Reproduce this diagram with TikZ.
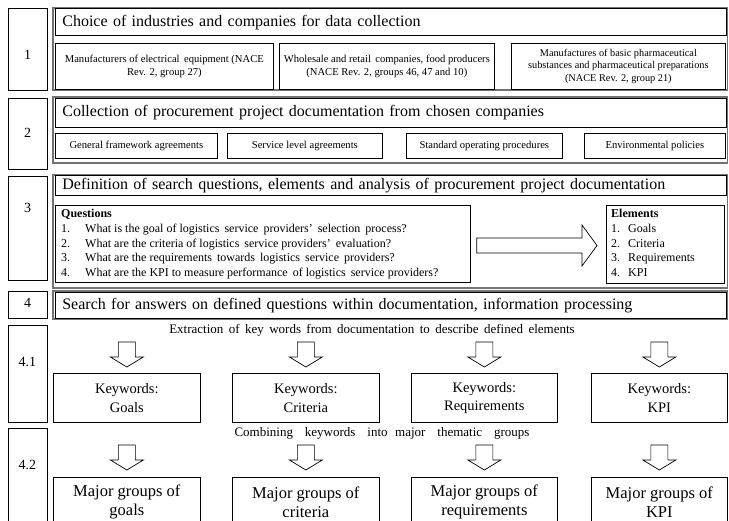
\documentclass[tikz,border=0pt]{standalone}
\usepackage{fontspec}
\setmainfont{Liberation Serif}
\begin{document}
\begin{tikzpicture}[x=1pt,y=-1pt,
  lw/.style={line width=0.7pt},
  numbox/.style={draw, lw, anchor=north west, inner sep=0pt, minimum width=39},
  numtext/.style={font=\fontsize{14}{16}\selectfont},
  rowframe/.style={draw=black!55, line width=1.3pt},
  titlebox/.style={draw, lw, anchor=north west, inner xsep=7pt, inner ysep=0pt,
    minimum width=671, text width=657, align=left, font=\fontsize{16}{18}\selectfont},
  subbox/.style={draw, lw, anchor=north west, inner sep=2pt, align=center,
    font=\fontsize{10.6}{13}\selectfont},
  listbox/.style={draw, lw, anchor=north west, inner sep=0pt},
  listtext/.style={anchor=north west, inner sep=0pt, align=left,
    font=\fontsize{12}{14.8}\selectfont},
  kwbox/.style={draw, lw, anchor=north west, inner sep=2pt, align=center,
    font=\fontsize{14.5}{18.5}\selectfont},
  mgbox/.style={kwbox, font=\fontsize{16.5}{19}\selectfont},
  caption/.style={font=\fontsize{13}{15}\selectfont},
  blockarrow/.style={draw, lw, fill=white, line join=miter},
  downarrow/.pic={\draw[blockarrow] (-8.5,0) -- (8.5,0) -- (8.5,15) -- (16.5,15)
    -- (0,25) -- (-16.5,15) -- (-8.5,15) -- cycle;}
]
\useasboundingbox (0,0) rectangle (729,521);
\clip (0,0) rectangle (729,521);

% ---------- step 1 ----------
\node[numbox, minimum height=82] (n1) at (8,8) {};
\node[numtext] at (27.5,55) {1};
\draw[rowframe] (53,8) rectangle (727.5,90);
\node[titlebox, minimum height=27] (t1) at (55,8.5) {Choice of industries and companies for data collection};
\node[subbox, minimum width=218, minimum height=46] (s11) at (55,43)
  {Manufacturers of electrical\, equipment (NACE\\Rev. 2, group 27)};
\node[subbox, minimum width=215, minimum height=46] (s12) at (279,43)
  {Wholesale and retail\, companies, food producers\\(NACE Rev. 2, groups 46, 47 and 10)};
\node[subbox, minimum width=214, minimum height=46, font=\fontsize{10.3}{12.6}\selectfont] (s13) at (511,43)
  {Manufactures of basic pharmaceutical\\substances and pharmaceutical preparations\\(NACE Rev. 2, group 21)};

% ---------- step 2 ----------
\node[numbox, minimum height=71] (n2) at (8,98) {};
\node[numtext] at (27.5,133) {2};
\draw[rowframe] (53,97) rectangle (727.5,163);
\node[titlebox, minimum height=29] (t2) at (55,98) {Collection of procurement project documentation from chosen companies};
\node[subbox, minimum width=162, minimum height=25] (s21) at (55,133) {General framework agreements};
\node[subbox, minimum width=155, minimum height=25] (s22) at (227,133) {Service level agreements};
\node[subbox, minimum width=156, minimum height=25] (s23) at (406,133) {Standard operating procedures};
\node[subbox, minimum width=141, minimum height=25] (s24) at (584,133) {Environmental policies};

% ---------- step 3 ----------
\node[numbox, minimum height=104] (n3) at (8,176) {};
\node[numtext] at (27.5,208) {3};
\draw[rowframe] (53,175) rectangle (727.5,288);
\node[titlebox, minimum height=20] (t3) at (55,175.5) {Definition of search questions, elements and analysis of procurement project documentation};
\node[listbox, minimum width=415, minimum height=77] (qb) at (55,205) {};
\node[listtext] (qt) at (61,207) {\begin{tabular}{@{}l@{\hspace{15pt}}l@{}}
  \multicolumn{2}{@{}l}{\textbf{Questions}}\\
  1. & What is the goal of logistics\, service\, providers'\, selection\, process?\\
  2. & What are the criteria of logistics\, service providers'\, evaluation?\\
  3. & What are the requirements\, towards\, logistics\, service\, providers?\\
  4. & What are the KPI to measure performance\, of logistics\, service providers?
\end{tabular}};
\node[listbox, minimum width=118, minimum height=78] (eb) at (606,205) {};
\node[listtext] (et) at (611,207) {\begin{tabular}{@{}l@{\hspace{8pt}}l@{}}
  \multicolumn{2}{@{}l}{\textbf{Elements}}\\
  1. & Goals\\
  2. & Criteria\\
  3. & Requirements\\
  4. & KPI
\end{tabular}};
% block arrow from the questions to the elements
\draw[blockarrow] ([xshift=6pt]qb.east |- 0,238) -- (582,238) -- (582,225)
  -- ([xshift=-9pt]eb.west |- 0,245.5) -- (582,266) -- (582,253)
  -- ([xshift=6pt]qb.east |- 0,253) -- cycle;

% ---------- step 4 ----------
\node[numbox, minimum height=27] (n4) at (8,291) {};
\node[numtext] at (27.5,303) {4};
\draw[rowframe] (53,291) rectangle (727.5,319);
\node[titlebox, minimum height=26] (t4) at (55,292) {Search for answers on defined questions within documentation, information processing};

% ---------- step 4.1 ----------
\node[numbox, minimum height=97] (n41) at (8,325) {};
\node[numtext] at (27.5,362) {4.1};
\node[caption] (c41) at (372,330) {Extraction\, of\, key\, words\, from\, documentation\, to\, describe\, defined\, elements};
\node[kwbox, minimum width=147, minimum height=49] (k1) at (53,373) {Keywords:\\Goals};
\node[kwbox, minimum width=147, minimum height=49] (k2) at (232,373) {Keywords:\\Criteria};
\node[kwbox, minimum width=146, minimum height=49] (k3) at (411,373) {Keywords:\\Requirements};
\node[kwbox, minimum width=136, minimum height=49] (k4) at (591,373) {Keywords:\\KPI};
\foreach \k in {k1,k2,k3,k4}
  \path (\k.north) ++(0,-31) pic {downarrow};

% ---------- step 4.2 ----------
\node[numbox, minimum height=110] (n42) at (8,428) {};
\node[numtext] at (27.5,465) {4.2};
\node[caption] (c42) at (382,433) {Combining\,\,\,\, keywords\,\,\,\, into\,\, major\,\,\,\, thematic\,\,\,\, groups};
\node[mgbox, minimum width=147, minimum height=50] (m1) at (53,477) {Major groups of\\goals};
\node[mgbox, minimum width=147, minimum height=50] (m2) at (232,477) {Major groups of\\criteria};
\node[mgbox, minimum width=146, minimum height=50] (m3) at (411,477) {Major groups of\\requirements};
\node[mgbox, minimum width=136, minimum height=50] (m4) at (591,477) {Major groups of\\KPI};
\foreach \m in {m1,m2,m3,m4}
  \path (\m.north) ++(0,-32) pic {downarrow};
\end{tikzpicture}
\end{document}
